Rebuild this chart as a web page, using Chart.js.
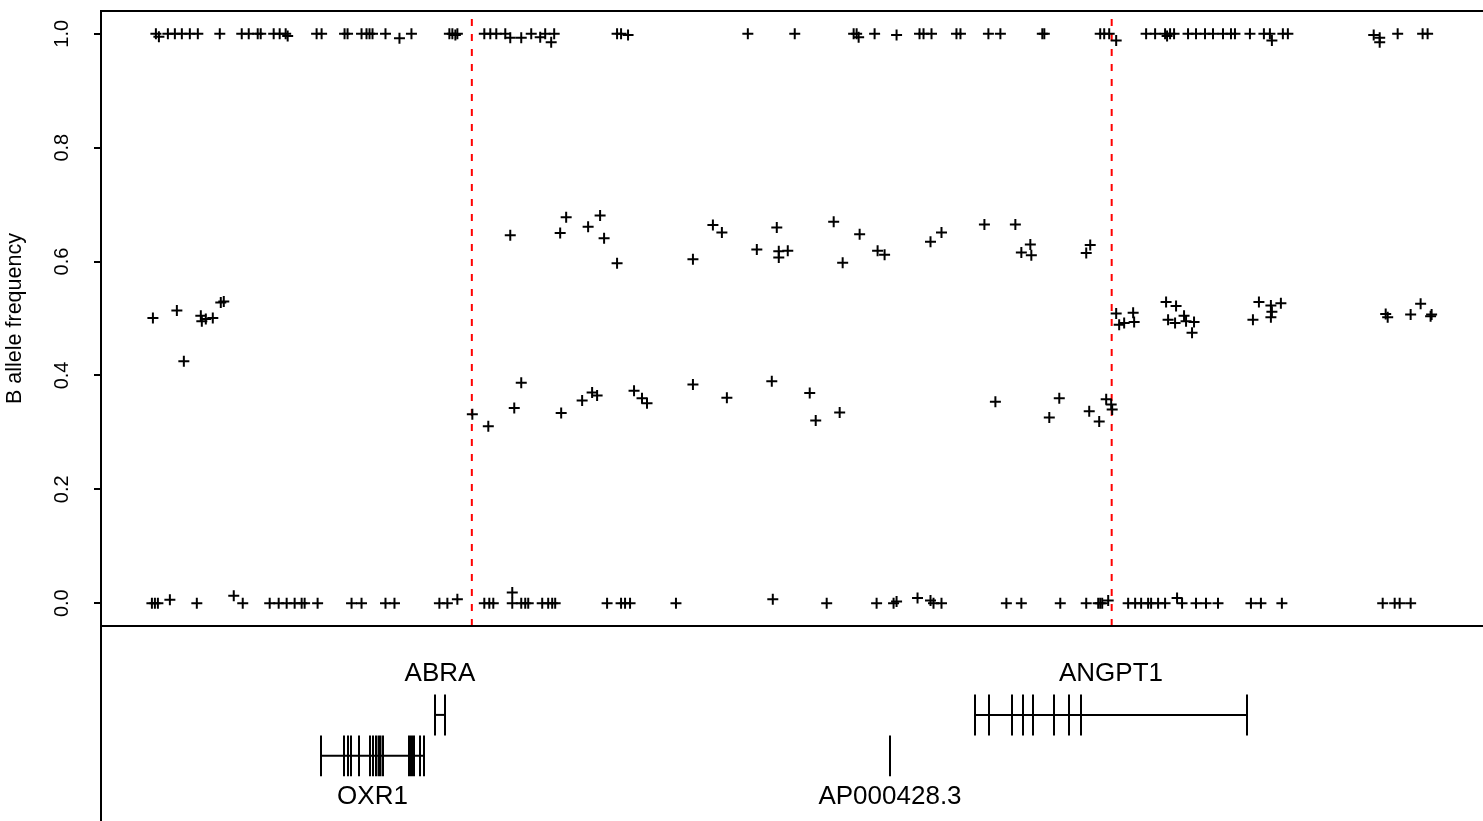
<!DOCTYPE html>
<html>
<head>
<meta charset="utf-8">
<script src="https://cdn.jsdelivr.net/npm/chart.js@4.4.1/dist/chart.umd.min.js"></script>
<style>
  html, body { margin: 0; padding: 0; background: #fff; overflow: hidden; }
  #wrap { position: relative; width: 1483px; height: 821px; overflow: hidden; }
  #bafChart { position: absolute; left: 0; top: 0; }
  #geneChart { position: absolute; left: 0; top: 626px; }
</style>
</head>
<body>
<div id="wrap">
  <canvas id="bafChart" width="1500" height="640"></canvas>
  <canvas id="geneChart" width="1500" height="195"></canvas>
</div>
<script>
// B allele frequency of SNPs along the region (position in plot units)
const topPos = [156, 159, 168, 175, 182, 190, 198, 220, 242, 249, 258, 261, 274, 280, 286, 288,
  317, 322, 345, 348, 362, 367, 370, 373, 386, 400, 412, 450, 453, 456, 458,
  485, 491, 497, 506, 511, 522, 532, 541, 546, 552, 555, 618, 622, 629, 749, 796,
  855, 858, 860, 876, 898, 921, 925, 933, 958, 962, 990, 1002, 1044, 1046,
  1102, 1106, 1111, 1118, 1148, 1157, 1167, 1169, 1172, 1176, 1190, 1198, 1207, 1215,
  1225, 1233, 1237, 1252, 1266, 1272, 1274, 1285, 1290, 1376, 1382, 1382, 1400, 1425, 1430];
const topBaf = [1, 0.995, 1, 1, 1, 1, 1, 1, 1, 1, 1, 1, 1, 1, 1, 0.996,
  1, 1, 1, 1, 1, 1, 1, 1, 1, 0.992, 1, 1, 1, 0.998, 1,
  1, 1, 1, 1, 0.993, 0.993, 1, 0.994, 1, 0.985, 1, 1, 1, 0.998, 1, 1,
  1, 1, 0.994, 1, 0.998, 1, 1, 1, 1, 1, 1, 1, 1, 1,
  1, 1, 1, 0.988, 1, 1, 1, 0.996, 1, 1, 1, 1, 1, 1,
  1, 1, 1, 1, 1, 1, 0.988, 1, 1, 0.998, 0.993, 0.985, 1, 1, 1];

const lowPos = [152, 155, 158, 170, 197, 234, 243, 270, 279, 287, 295, 302, 305, 318, 352, 362,
  386, 395, 440, 448, 458, 485, 490, 494, 513, 513, 522, 526, 529, 543, 549, 553, 556,
  608, 622, 626, 631, 677, 774, 828, 878, 895, 898, 919, 932, 935, 943, 1008, 1023,
  1062, 1088, 1100, 1102, 1104, 1110, 1130, 1137, 1143, 1150, 1153, 1160, 1167, 1179,
  1184, 1198, 1208, 1220, 1253, 1263, 1284, 1385, 1397, 1402, 1413];
const lowBaf = [0, 0, 0, 0.006, 0, 0.013, 0, 0, 0, 0, 0, 0, 0, 0, 0, 0,
  0, 0, 0, 0, 0.007, 0, 0, 0, 0.019, 0, 0, 0, 0, 0, 0, 0, 0,
  0, 0, 0, 0, 0, 0.007, 0, 0, 0, 0.003, 0.009, 0.005, 0, 0, 0, 0,
  0, 0, 0, 0, 0, 0.005, 0, 0, 0, 0, 0, 0, 0, 0.009,
  0, 0, 0, 0, 0, 0, 0, 0, 0, 0, 0];

const midPos = [153, 177, 184, 201, 202, 206, 213, 221, 224,
  1118, 1121, 1126, 1135, 1136, 1168, 1170, 1177, 1178, 1186, 1188, 1194, 1196,
  1255, 1261, 1273, 1273, 1274, 1283, 1388, 1390, 1413, 1423, 1433, 1434];
const midBaf = [0.501, 0.514, 0.425, 0.505, 0.495, 0.499, 0.501, 0.528, 0.530,
  0.509, 0.489, 0.492, 0.510, 0.494, 0.529, 0.498, 0.492, 0.522, 0.505, 0.495, 0.475, 0.494,
  0.498, 0.529, 0.523, 0.502, 0.512, 0.527, 0.508, 0.502, 0.507, 0.526, 0.504, 0.507];

const gainHiPos = [511, 561, 567, 589, 601, 605, 618, 694, 714, 723, 758, 778, 780, 780, 789,
  835, 844, 861, 879, 886, 932, 943, 986, 1017, 1023, 1032, 1033, 1088, 1092];
const gainHiBaf = [0.646, 0.650, 0.678, 0.661, 0.681, 0.641, 0.597, 0.604, 0.664, 0.651, 0.621,
  0.660, 0.618, 0.607, 0.619, 0.670, 0.598, 0.648, 0.619, 0.612, 0.635, 0.651, 0.665, 0.665,
  0.616, 0.630, 0.611, 0.615, 0.629];

const gainLoPos = [473, 489, 515, 522, 562, 583, 593, 598, 635, 643, 648, 694, 728, 773, 811,
  817, 841, 997, 1051, 1061, 1091, 1101, 1108, 1113, 1114];
const gainLoBaf = [0.332, 0.311, 0.343, 0.387, 0.334, 0.356, 0.370, 0.365, 0.373, 0.360, 0.351,
  0.384, 0.361, 0.390, 0.369, 0.321, 0.335, 0.354, 0.326, 0.360, 0.337, 0.319, 0.358, 0.349, 0.340];

const breakPos = [472.5, 1113.5];
const yTicks = [0, 0.2, 0.4, 0.6, 0.8, 1.0];

// gene annotation track
const geneNames = ['OXR1', 'ABRA', 'AP000428.3', 'ANGPT1'];
const geneStart = [321, 435, 890, 975];
const geneEnd = [424, 445, 890, 1247];
const geneRow = [1, 2, 1, 2];
const geneExons = [
  [321, 344, 348, 351, 359, 370, 373, 376, 378.5, 380.5, 383, 409, 411, 412.5, 414, 420, 424],
  [435, 445],
  [890],
  [975, 989, 1012, 1023, 1033, 1054, 1069, 1081, 1247]
];

const FONT = '"Liberation Sans", Arial, Helvetica, sans-serif';
const X_MIN = 101, X_MAX = 1495;
const Y_MIN = -0.04, Y_MAX = 1.04;

const toPoints = (xs, ys) => xs.map((x, i) => ({ x: x, y: ys[i] }));

function snpSet(xs, ys) {
    return {
        data: toPoints(xs, ys),
        showLine: false,
        pointStyle: 'cross',
        pointRadius: 5.5,
        pointBorderWidth: 2,
        pointBorderColor: '#000',
        pointBackgroundColor: '#000'
    };
}

function breakSet(x) {
    return {
        type: 'line',
        data: [{ x: x, y: Y_MIN }, { x: x, y: Y_MAX }],
        borderColor: '#ff0000',
        borderWidth: 2,
        borderDash: [7, 8],
        pointRadius: 0,
        fill: false
    };
}

// frame around the plotting region
const boxPlugin = {
    id: 'box',
    afterDraw(chart) {
        const { ctx, chartArea: a } = chart;
        ctx.save();
        ctx.strokeStyle = '#000';
        ctx.lineWidth = 2;
        ctx.strokeRect(a.left, a.top, a.right - a.left, a.bottom - a.top);
        ctx.restore();
    }
};

new Chart(document.getElementById('bafChart'), {
    type: 'scatter',
    data: {
        datasets: [
            snpSet(topPos, topBaf),
            snpSet(lowPos, lowBaf),
            snpSet(midPos, midBaf),
            snpSet(gainHiPos, gainHiBaf),
            snpSet(gainLoPos, gainLoBaf),
            ...breakPos.map(breakSet)
        ]
    },
    options: {
        responsive: false,
        animation: false,
        events: [],
        layout: { padding: { top: 11, right: 5, bottom: 14, left: 0 } },
        plugins: { legend: { display: false }, tooltip: { enabled: false } },
        scales: {
            x: { type: 'linear', min: X_MIN, max: X_MAX, display: false },
            y: {
                min: Y_MIN,
                max: Y_MAX,
                afterFit: (s) => {
                    s.width = 101;
                    s.paddingTop = 0;
                    s.paddingBottom = 0;
                    s.paddingLeft = 0;
                    s.paddingRight = 0;
                },
                afterBuildTicks: (s) => { s.ticks = yTicks.map(v => ({ value: v })); },
                ticks: {
                    minRotation: 90,
                    maxRotation: 90,
                    crossAlign: 'center',
                    padding: 18,
                    color: '#000',
                    font: { family: FONT, size: 20 },
                    callback: (v) => v.toFixed(1)
                },
                grid: { drawOnChartArea: false, tickLength: 7, color: '#000', lineWidth: 2 },
                border: { color: '#000', width: 2 },
                title: {
                    display: true,
                    text: 'B allele frequency',
                    color: '#000',
                    font: { family: FONT, size: 21.5 },
                    padding: { top: 2, bottom: 0 }
                }
            }
        }
    },
    plugins: [boxPlugin]
});

// gene track datasets: backbone line + one vertical tick per exon
const geneSets = [];
geneNames.forEach((name, i) => {
    const row = geneRow[i];
    geneSets.push({
        type: 'line',
        data: [{ x: geneStart[i], y: row }, { x: geneEnd[i], y: row }],
        borderColor: '#000',
        borderWidth: 2,
        pointRadius: 0
    });
    const ticks = [];
    geneExons[i].forEach(e => {
        ticks.push({ x: e, y: row - 0.5 }, { x: e, y: row + 0.5 }, { x: e, y: null });
    });
    geneSets.push({
        type: 'line',
        data: ticks,
        borderColor: '#000',
        borderWidth: 2,
        pointRadius: 0,
        spanGaps: false
    });
});

const geneLabelPlugin = {
    id: 'geneLabels',
    afterDatasetsDraw(chart) {
        const { ctx, scales } = chart;
        ctx.save();
        ctx.fillStyle = '#000';
        ctx.font = '26px ' + FONT;
        ctx.textAlign = 'center';
        ctx.textBaseline = 'middle';
        geneNames.forEach((name, i) => {
            const row = geneRow[i];
            const x = scales.x.getPixelForValue((geneStart[i] + geneEnd[i]) / 2);
            const y = scales.y.getPixelForValue(row === 2 ? row + 1 : row - 1);
            ctx.fillText(name, x, y);
        });
        ctx.restore();
    }
};

new Chart(document.getElementById('geneChart'), {
    type: 'scatter',
    data: { datasets: geneSets },
    options: {
        responsive: false,
        animation: false,
        events: [],
        layout: { padding: { top: 0, right: 5, bottom: 0, left: 0 } },
        plugins: { legend: { display: false }, tooltip: { enabled: false } },
        scales: {
            x: { type: 'linear', min: X_MIN, max: X_MAX, display: false },
            y: {
                min: -0.59,
                max: 4.17,
                afterFit: (s) => { s.width = 101; },
                ticks: { display: false },
                grid: { display: false },
                border: { display: true, color: '#000', width: 2 }
            }
        }
    },
    plugins: [geneLabelPlugin]
});
</script>
</body>
</html>
